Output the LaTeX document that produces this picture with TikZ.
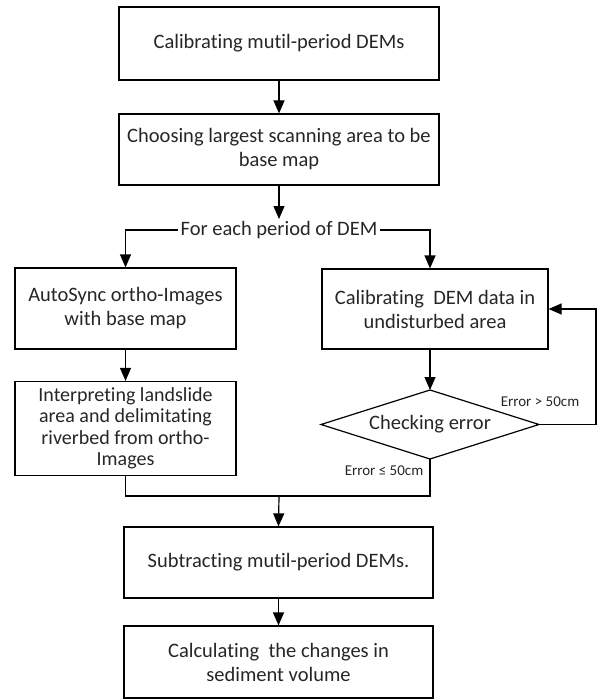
\documentclass[tikz,border=0pt]{standalone}
\usepackage{fontspec}
\setmainfont{Carlito}[Ligatures=CommonOff]
\usetikzlibrary{arrows.meta}
\begin{document}
\begin{tikzpicture}[x=1pt,y=-1pt,
  box/.style={draw=black,line width=1.2pt,rectangle,align=center,inner sep=2pt,font=\fontsize{20.5}{24}\selectfont,text=black!85},
  txt/.style={inner sep=2pt,font=\fontsize{20.5}{24}\selectfont,text=black!85},
  lbl/.style={font=\fontsize{15}{18}\selectfont,text=black!85,inner sep=1pt},
  con/.style={draw=black,line width=1.2pt},
  arr/.style={con,-{Triangle[width=11pt,length=13pt]}}]
\useasboundingbox (0,0) rectangle (600,700);
\node[box,minimum width=320pt,minimum height=73pt] (b1) at (279,43.5) {Calibrating mutil-period DEMs};
\node[box,minimum width=320pt,minimum height=71pt] (b2) at (279,149.5) {Choosing largest scanning area to be\\base map};
\node[txt] (fe) at (279,230) {For each period of DEM};
\node[box,minimum width=221pt,minimum height=81pt] (au) at (125.5,308.5) {AutoSync ortho-Images\\with base map};
\node[box,minimum width=221pt,minimum height=94pt,font=\fontsize{20}{21.5}\selectfont] (in) at (125.5,428.5) {Interpreting landslide\\area and delimitating\\riverbed from ortho-\\Images};
\node[box,minimum width=226pt,minimum height=80pt] (ca) at (435,309) {Calibrating~ DEM data in\\undisturbed area};
\coordinate (dN) at (430,390);
\coordinate (dE) at (539,424.5);
\coordinate (dS) at (430,459);
\coordinate (dW) at (321,424.5);
\draw[con,line join=miter] (dN) -- (dE) -- (dS) -- (dW) -- cycle;
\node[txt] (di) at (430,424.5) {Checking error};
\node[box,minimum width=309pt,minimum height=71pt] (su) at (278.5,562.5) {Subtracting mutil-period DEMs.};
\node[box,minimum width=309pt,minimum height=72pt] (cc) at (278.5,662) {Calculating~ the changes in\\sediment volume};
\node[lbl] (l1) at (540,402) {Error > 50cm};
\node[lbl] (l2) at (384,471) {Error ≤ 50cm};
\coordinate (m) at (279,496);
\draw[arr] (b1.south) -- (b2.north);
\draw[arr] (b2.south) -- (fe.north);
\draw[arr] (fe.west) -| (au.north);
\draw[arr] (fe.east) -| (dN |- ca.north);
\draw[arr] (au.south) -- (in.north);
\draw[arr] (dN |- ca.south) -- (dN);
\draw[arr] (dE) -- ++(57,0) |- (ca.east);
\draw[con] (in.south) |- (m);
\draw[con] (dS) |- (m);
\draw[arr] (m) -- (su.north);
\draw[arr] (su.south) -- (cc.north);
\end{tikzpicture}
\end{document}
